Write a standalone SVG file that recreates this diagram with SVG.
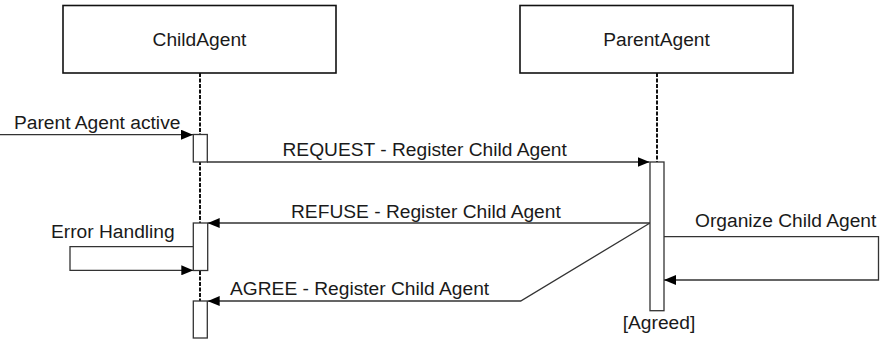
<svg xmlns="http://www.w3.org/2000/svg" width="883" height="340" viewBox="0 0 883 340">
<defs>
<marker id="ah" viewBox="0 0 12 10" refX="12" refY="5" markerWidth="12" markerHeight="10" markerUnits="userSpaceOnUse" orient="auto">
<path d="M0,0 L12,5 L0,10 Z" fill="#000"/>
</marker>
</defs>
<style>
text{font-family:"Liberation Sans",Arial,sans-serif;font-size:19.2px;fill:#1a1a1a}
.box{fill:#fff;stroke:#111;stroke-width:1.6}
.life{stroke:#111;stroke-width:2;stroke-dasharray:4,1.5;fill:none}
.act{fill:#fff;stroke:#333;stroke-width:1.3}
.msg{stroke:#333;stroke-width:1.3;fill:none}
</style>
<rect width="883" height="340" fill="#fff"/>
<g id="lifelines">
<line class="life" x1="200" y1="73" x2="200" y2="338"/>
<line class="life" x1="657" y1="73" x2="657" y2="162"/>
</g>
<g id="ChildAgent">
<rect class="box" x="63" y="5.5" width="273" height="67.5"/>
<text x="199.5" y="45.5" text-anchor="middle">ChildAgent</text>
</g>
<g id="ParentAgent">
<rect class="box" x="520" y="5.5" width="273" height="67.5"/>
<text x="656.5" y="45.5" text-anchor="middle">ParentAgent</text>
</g>
<g id="connectors">
<line class="msg" x1="0" y1="134.7" x2="193" y2="134.7" marker-end="url(#ah)"/>
<line class="msg" x1="207" y1="162" x2="649.5" y2="162" marker-end="url(#ah)"/>
<line class="msg" x1="650" y1="223" x2="207.7" y2="223" marker-end="url(#ah)"/>
<polyline class="msg" points="650,223 520.7,301 207.7,301" marker-end="url(#ah)"/>
<polyline class="msg" points="193.3,246.7 70,246.7 70,270.3 193.3,270.3" marker-end="url(#ah)"/>
<polyline class="msg" points="664,236.7 878.5,236.7 878.5,280 664,280" marker-end="url(#ah)"/>
</g>
<g id="activations">
<rect class="act" x="193.3" y="134.5" width="14" height="27.5"/>
<rect class="act" x="193.3" y="223" width="14.4" height="47.5"/>
<rect class="act" x="193.3" y="301" width="14" height="37"/>
<rect class="act" x="650" y="162" width="14" height="148.7"/>
</g>
<g id="labels">
<text x="14" y="129">Parent Agent active</text>
<text x="282.5" y="156">REQUEST - Register Child Agent</text>
<text x="291" y="217.5">REFUSE - Register Child Agent</text>
<text x="230" y="294.5">AGREE - Register Child Agent</text>
<text x="51" y="238">Error Handling</text>
<text x="695" y="226.5">Organize Child Agent</text>
<text x="659" y="328.5" text-anchor="middle">[Agreed]</text>
</g>
</svg>
